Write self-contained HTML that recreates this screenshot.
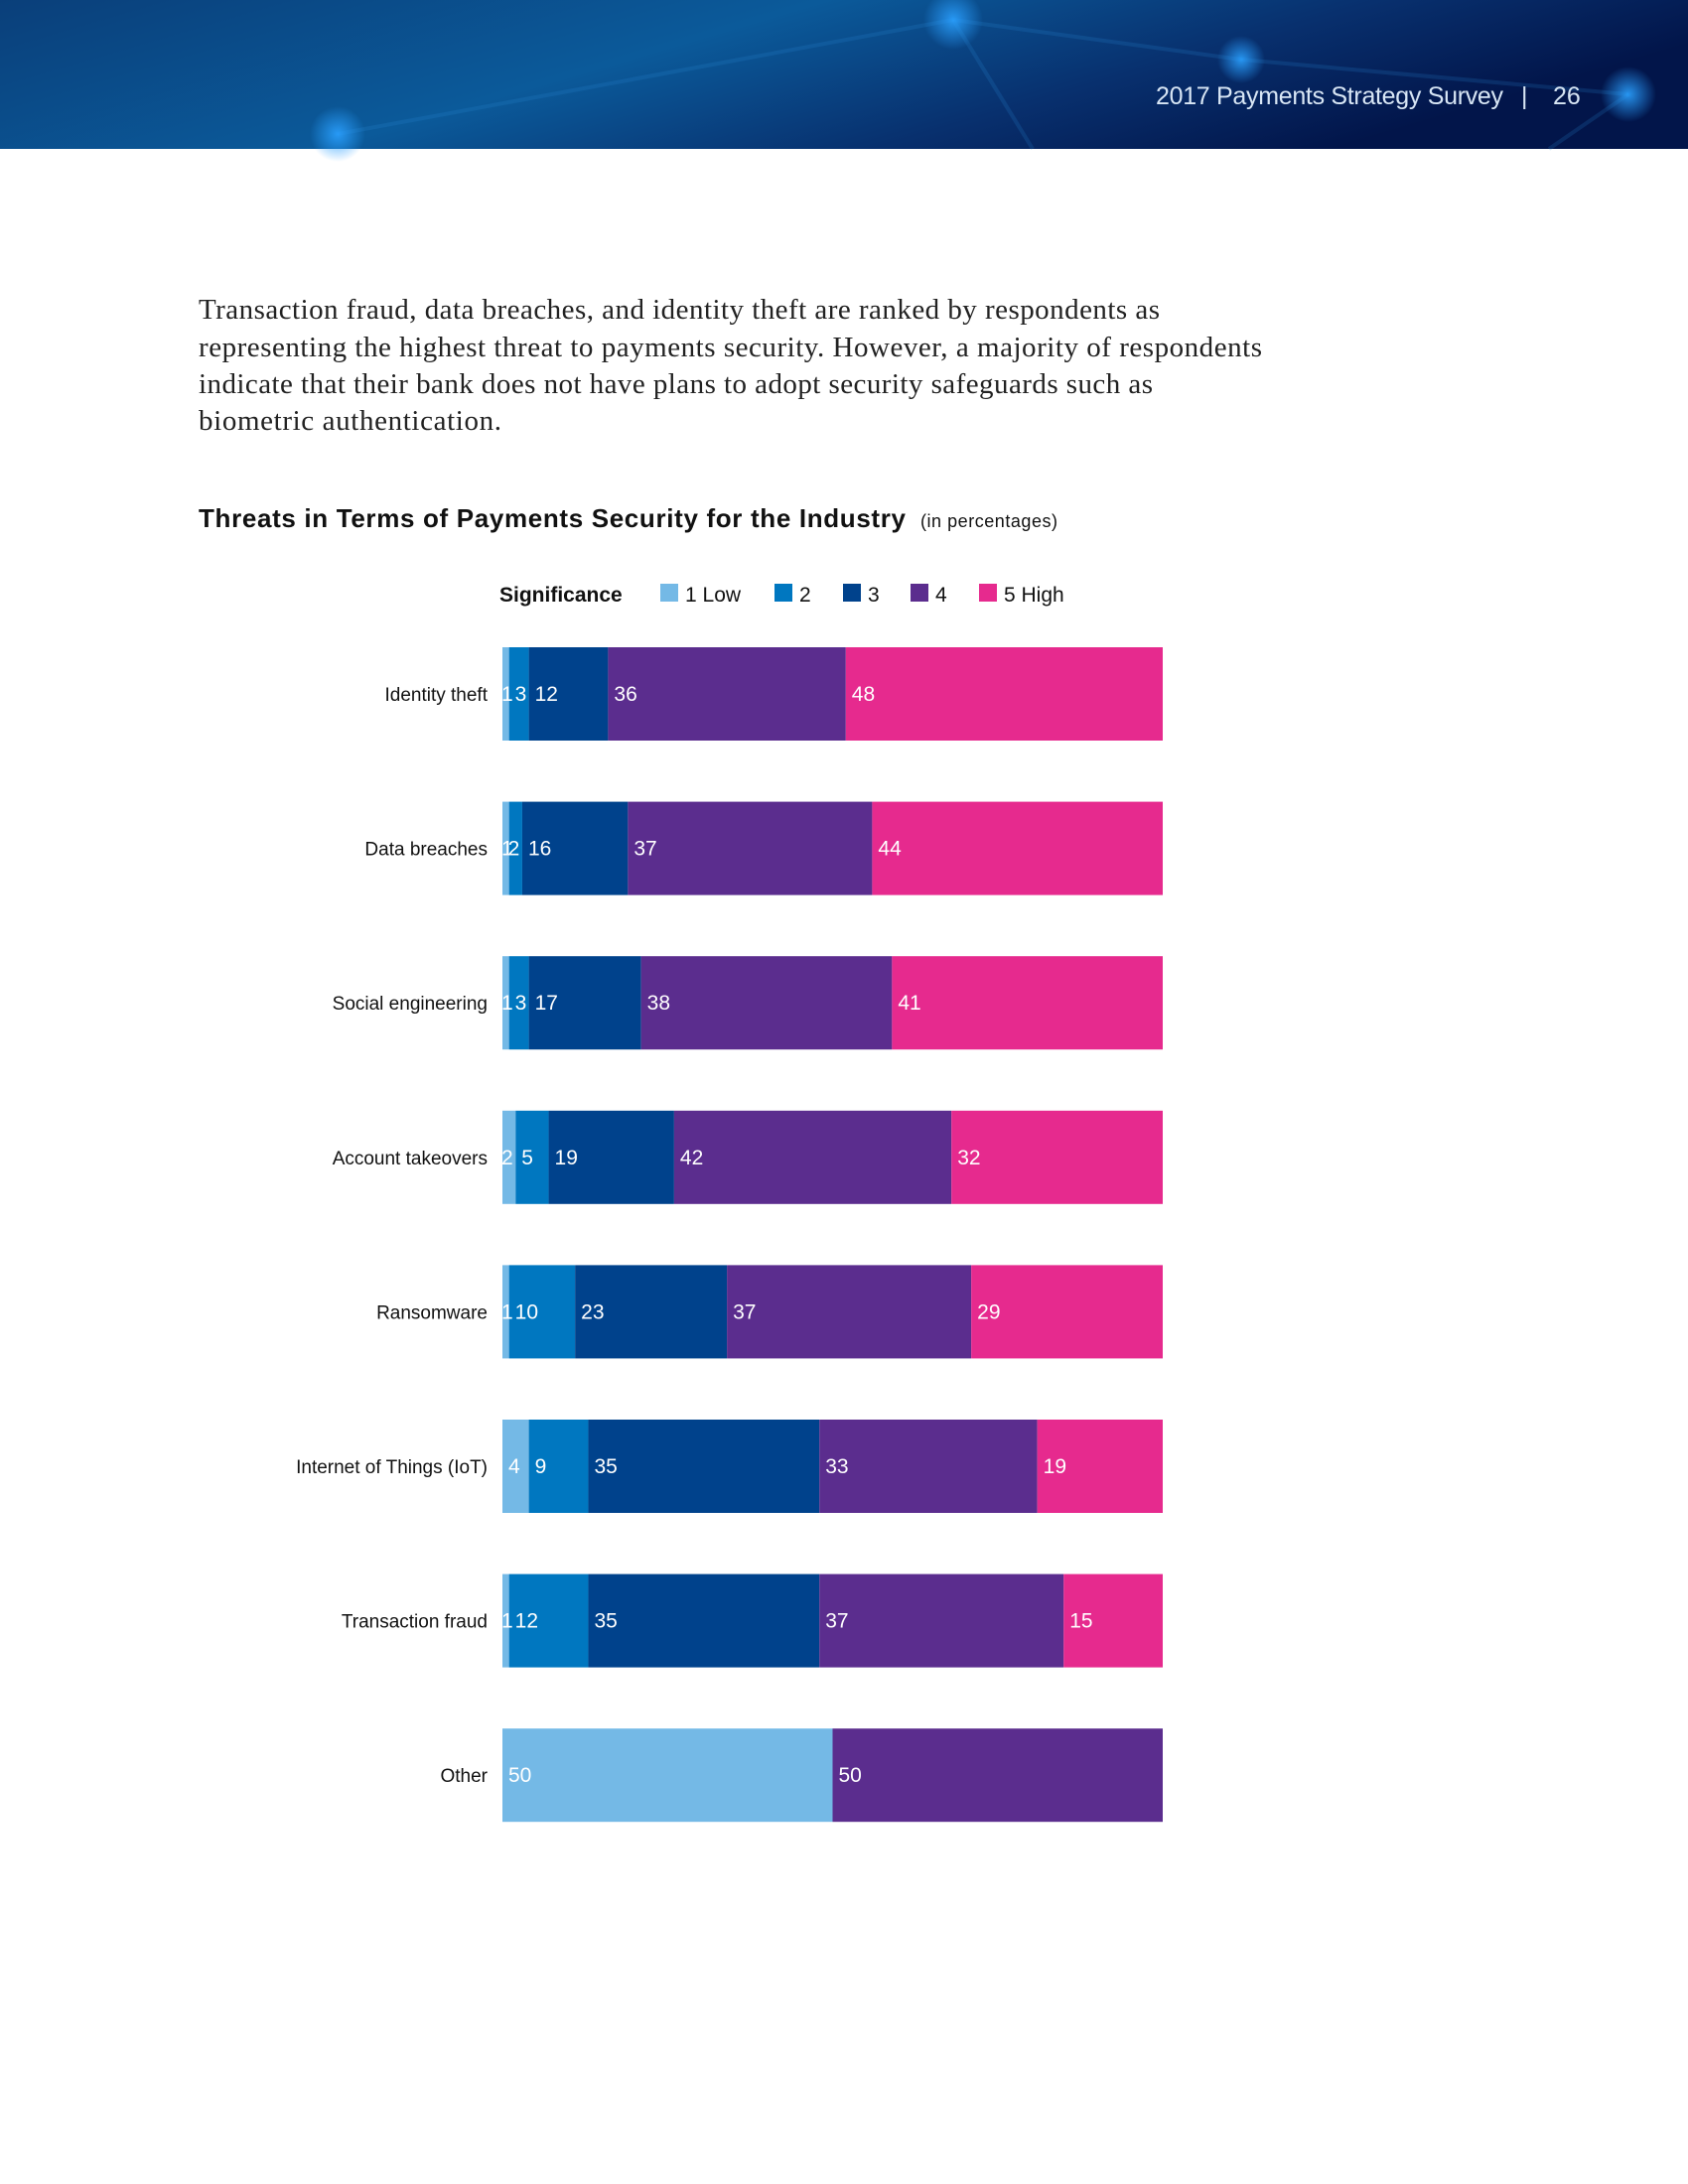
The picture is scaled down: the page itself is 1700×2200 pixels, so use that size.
<!DOCTYPE html>
<html><head><meta charset="utf-8"><style>
html,body{margin:0;padding:0;background:#fff;}
body{width:1700px;height:2200px;position:relative;overflow:hidden;}
svg{position:absolute;left:0;top:0;}
</style></head><body>
<svg width="1700" height="2200" viewBox="0 0 1700 2200">
<defs>
<linearGradient id="hg" x1="0" y1="0" x2="1" y2="0.3">
<stop offset="0" stop-color="#0a3f7a"/><stop offset="0.45" stop-color="#0b5a9a"/><stop offset="0.75" stop-color="#08306e"/><stop offset="1" stop-color="#02154a"/>
</linearGradient>
<radialGradient id="dot"><stop offset="0" stop-color="#2aa0ff" stop-opacity="0.9"/><stop offset="1" stop-color="#2aa0ff" stop-opacity="0"/></radialGradient>
</defs>
<g>
<rect x="0" y="0" width="1700" height="150" fill="url(#hg)"/>
<g stroke="#2f8ee0" stroke-opacity="0.18" stroke-width="4" fill="none">
<line x1="340" y1="135" x2="960" y2="20"/><line x1="960" y1="20" x2="1040" y2="150"/><line x1="960" y1="20" x2="1250" y2="60"/><line x1="1250" y1="60" x2="1640" y2="95"/><line x1="1640" y1="95" x2="1560" y2="150"/>
</g>
<circle cx="960" cy="20" r="30" fill="url(#dot)"/><circle cx="340" cy="135" r="28" fill="url(#dot)"/><circle cx="1640" cy="95" r="28" fill="url(#dot)"/><circle cx="1250" cy="60" r="24" fill="url(#dot)"/>
<text x="1164" y="105" font-family="Liberation Sans, sans-serif" font-size="25" fill="#d8e6f5" textLength="350">2017 Payments Strategy Survey</text>
<text x="1532" y="105" font-family="Liberation Sans, sans-serif" font-size="25" fill="#d8e6f5">|</text>
<text x="1564" y="105" font-family="Liberation Sans, sans-serif" font-size="25" fill="#d8e6f5">26</text>
</g>
<g font-family="Liberation Serif, serif" font-size="29" fill="#222">
<text x="200" y="321" textLength="968">Transaction fraud, data breaches, and identity theft are ranked by respondents as</text>
<text x="200" y="359" textLength="1071">representing the highest threat to payments security.  However, a majority of respondents</text>
<text x="200" y="396" textLength="961">indicate that their bank does not have plans to adopt security safeguards such as</text>
<text x="200" y="433" textLength="305">biometric authentication.</text>
</g>
<text x="200" y="531" font-family="Liberation Sans, sans-serif" font-weight="bold" font-size="26" fill="#111" textLength="712">Threats in Terms of Payments Security for the Industry</text>
<text x="927" y="531" font-family="Liberation Sans, sans-serif" font-size="18" fill="#111" textLength="138">(in percentages)</text>
<g id="chart"></g>
</svg>
<script>
var categories = ["Identity theft","Data breaches","Social engineering","Account takeovers","Ransomware","Internet of Things (IoT)","Transaction fraud","Other"];
var low1 = [1,1,1,2,1,4,1,50];
var s2 = [3,2,3,5,10,9,12,0];
var s3 = [12,16,17,19,23,35,35,0];
var s4 = [36,37,38,42,37,33,37,50];
var high5 = [48,44,41,32,29,19,15,0];
var seriesNames = ["1 Low","2","3","4","5 High"];

var colors = ["#74b9e6","#0077c0","#00428c","#5b2d8e","#e62a8e"];
var series = [low1,s2,s3,s4,high5];
var NS = "http://www.w3.org/2000/svg";
var g = document.getElementById("chart");
var X0 = 506, X1 = 1171, Y0 = 652, STEP = 155.6, BH = 94;
function xs(v){ return X0 + (X1 - X0) * v / 100; }
function ys(i){ return Y0 + STEP * i; }
function mk(tag, attrs){ var e = document.createElementNS(NS, tag); for (var k in attrs) e.setAttribute(k, attrs[k]); return e; }

var lt = mk("text",{x:503,y:606,"font-family":"Liberation Sans, sans-serif","font-weight":"bold","font-size":"21",fill:"#111"});
lt.textContent = "Significance";


g.appendChild(lt);
var legX = [665,780,849,917,986];
for (var s = 0; s < seriesNames.length; s++) {
  var lg = mk("g",{});
  
  
  lg.appendChild(mk("rect",{x:legX[s],y:588,width:18,height:18,fill:colors[s]}));
  var t = mk("text",{x:legX[s]+25,y:606,"font-family":"Liberation Sans, sans-serif","font-size":"21",fill:"#111"});
  t.textContent = seriesNames[s];
  lg.appendChild(t);
  g.appendChild(lg);
}

for (var i = 0; i < categories.length; i++) {
  var row = mk("g",{});
  
  
  var y = ys(i);
  var lab = mk("text",{x:491,y:y+BH/2+7,"text-anchor":"end","font-family":"Liberation Sans, sans-serif","font-size":"19",fill:"#111"});
  lab.textContent = categories[i];
  
  
  row.appendChild(lab);
  var cum = 0;
  var labels = [];
  for (var s = 0; s < series.length; s++) {
    var v = series[s][i];
    if (v > 0) {
      var r = mk("rect",{x:xs(cum),y:y,width:xs(cum+v)-xs(cum),height:BH,fill:colors[s]});
      
      
      row.appendChild(r);
      var vt = mk("text",{x:xs(cum)+(v<=2?-1:6),y:y+BH/2+7,"font-family":"Liberation Sans, sans-serif","font-size":"21",fill:"#fff"});
      vt.textContent = v;
      
      
      labels.push(vt);
    }
    cum += v;
  }
  labels.forEach(function(l){ row.appendChild(l); });
  g.appendChild(row);
}
</script>
</body></html>
